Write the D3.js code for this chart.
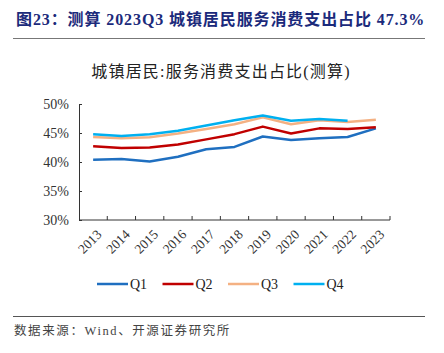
<!DOCTYPE html>
<html>
<head>
<meta charset="utf-8">
<script src="https://cdn.jsdelivr.net/npm/d3@7"></script>
<style>
  body { margin: 0; background: #fff; }
  svg { display: block; }
</style>
</head>
<body>
<svg id="chart" width="444" height="353"></svg>
<script>
// data
const years = ["2013","2014","2015","2016","2017","2018","2019","2020","2021","2022","2023"]
const q1 = [40.4, 40.5, 40.1, 40.9, 42.2, 42.6, 44.4, 43.8, 44.1, 44.3, 45.8]
const q2 = [42.7, 42.4, 42.5, 43.0, 43.9, 44.8, 46.1, 44.9, 45.8, 45.7, 46.0]
const q3 = [44.3, 44.1, 44.25, 44.9, 45.7, 46.5, 47.7, 46.5, 47.2, 46.9, 47.3]
const q4 = [44.8, 44.5, 44.8, 45.4, 46.3, 47.2, 48.0, 47.1, 47.4, 47.1, null]
const yTicks = [30, 35, 40, 45, 50]
const seriesNames = ["Q1", "Q2", "Q3", "Q4"]
const colors = ["#1f6fc0", "#c00000", "#f4b183", "#00b0f0"]

const series = [q1, q2, q3, q4].map((vals, i) => ({
    name: seriesNames[i],
    color: colors[i],
    values: vals.map((v, j) => ({ year: years[j], v: v }))
}))

const svg = d3.select("#chart")
const serif = "'Liberation Serif', 'Times New Roman', 'Noto Sans CJK SC', serif"
const cjk = "'Liberation Serif', 'Noto Sans CJK SC', serif"

// header
svg.append("text")
    .attr("x", 16).attr("y", 25)
    .attr("font-family", cjk)
    .attr("font-weight", "bold")
    .attr("font-size", 16)
    .attr("letter-spacing", 0.9)
    .attr("fill", "#1b2a7b")
    .text("图23：测算 2023Q3 城镇居民服务消费支出占比 47.3%")

svg.append("line")
    .attr("x1", 13).attr("x2", 425).attr("y1", 38.5).attr("y2", 38.5)
    .attr("stroke", "#777").attr("stroke-width", 1.2)

// chart title
svg.append("text")
    .attr("x", 221).attr("y", 77)
    .attr("text-anchor", "middle")
    .attr("font-family", cjk)
    .attr("font-size", 16)
    .attr("letter-spacing", 1.2)
    .attr("fill", "#222")
    .text("城镇居民:服务消费支出占比(测算)")

const margin = { top: 104, right: 54, bottom: 133, left: 79 }
const width = 444, height = 353

const x = d3.scaleBand()
    .domain(years)
    .range([margin.left, width - margin.right])

const y = d3.scaleLinear()
    .domain([30, 50])
    .range([height - margin.bottom, margin.top])

// y axis
const yAxis = g => g
    .attr("transform", `translate(${margin.left},0)`)
    .call(d3.axisLeft(y).tickValues(yTicks).tickSizeInner(-3).tickSizeOuter(0).tickPadding(10).tickFormat(d => d + "%"))

svg.append("g")
    .call(yAxis)
    .call(g => g.selectAll("text").attr("font-family", serif).attr("font-size", 14).attr("fill", "#333"))
    .call(g => g.selectAll("line, path").attr("stroke", "#333"))

// x axis with ticks on band edges
const x0 = height - margin.bottom
const xg = svg.append("g")
xg.append("line")
    .attr("x1", margin.left).attr("x2", width - margin.right)
    .attr("y1", x0).attr("y2", x0)
    .attr("stroke", "#333")
xg.selectAll(".tk")
    .data(years)
    .join("line")
    .attr("x1", d => x(d) + x.bandwidth()).attr("x2", d => x(d) + x.bandwidth())
    .attr("y1", x0).attr("y2", x0 - 4)
    .attr("stroke", "#333")
xg.selectAll(".lb")
    .data(years)
    .join("text")
    .attr("transform", d => `translate(${x(d) + x.bandwidth() / 2 + 6},${x0 + 12}) rotate(-45)`)
    .attr("text-anchor", "end")
    .attr("dy", "0.35em")
    .attr("font-family", serif)
    .attr("font-size", 13.5)
    .attr("fill", "#333")
    .text(d => d)

// lines
const line = d3.line()
    .defined(d => d.v != null)
    .x(d => x(d.year) + x.bandwidth() / 2)
    .y(d => y(d.v))

svg.append("g")
    .selectAll("path")
    .data(series)
    .join("path")
    .attr("fill", "none")
    .attr("stroke", d => d.color)
    .attr("stroke-width", 2.5)
    .attr("stroke-linejoin", "round")
    .attr("d", d => line(d.values))

// legend
const legend = svg.append("g")
    .selectAll("g")
    .data(series)
    .join("g")
    .attr("transform", (d, i) => `translate(${97 + i * 65.5},284)`)
legend.append("line")
    .attr("x1", 0).attr("x2", 31)
    .attr("stroke", d => d.color)
    .attr("stroke-width", 2.5)
legend.append("text")
    .attr("x", 33).attr("dy", "0.35em")
    .attr("font-family", serif)
    .attr("font-size", 14)
    .attr("fill", "#222")
    .text(d => d.name)

// footer
svg.append("line")
    .attr("x1", 13).attr("x2", 425).attr("y1", 316.5).attr("y2", 316.5)
    .attr("stroke", "#555").attr("stroke-width", 1.2)

svg.append("text")
    .attr("x", 14).attr("y", 335)
    .attr("font-family", cjk)
    .attr("font-size", 12.5)
    .attr("letter-spacing", 1.6)
    .attr("fill", "#444")
    .text("数据来源：Wind、开源证券研究所")
</script>
</body>
</html>
